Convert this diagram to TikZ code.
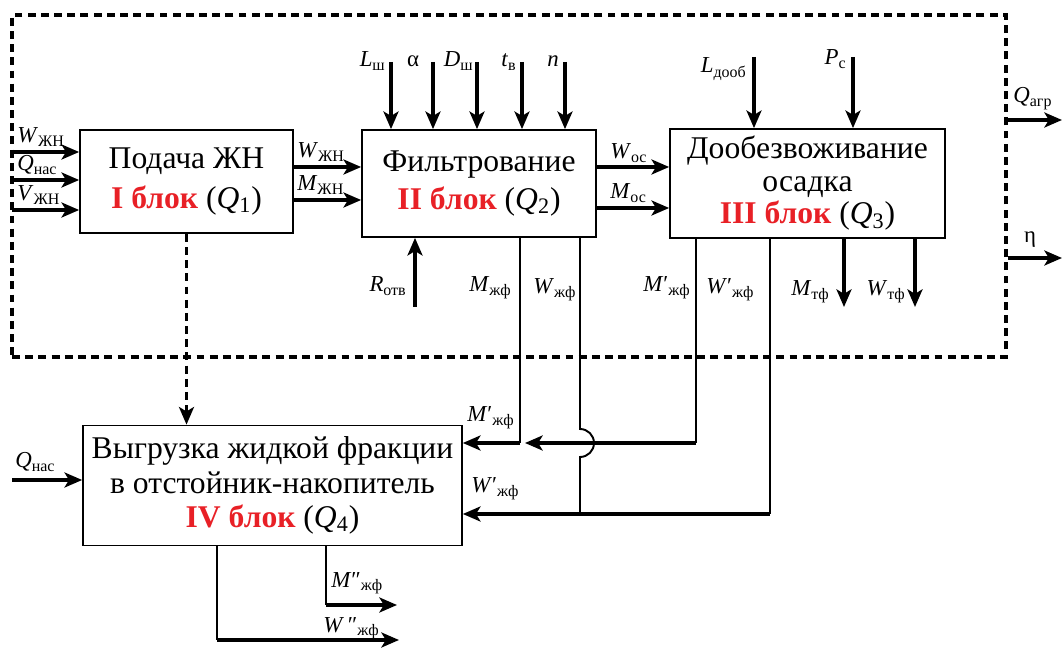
\documentclass[tikz,border=0pt]{standalone}
\usepackage{fontspec}
\setmainfont{Liberation Serif}
\usepackage{xcolor}
\usetikzlibrary{arrows.meta,positioning}
\definecolor{blokred}{RGB}{232,32,38}
\newcommand{\pvar}[2]{\textit{#1}\textsubscript{#2}}
\newcommand{\blok}[2]{\textcolor{blokred}{\bfseries #1 блок} (\textit{Q}\textsubscript{#2})}

\begin{document}
\begin{tikzpicture}[x=0.02cm,y=-0.02cm,
  blok/.style={rectangle,draw,line width=1pt,align=center,inner sep=0pt,font=\fontsize{18}{18.5}\selectfont},
  flow/.style={line width=2.1pt,-{Stealth[length=10pt,width=8.5pt,inset=2.5pt]}},
  dflow/.style={flow,dash pattern=on 4.5pt off 3pt},
  tie/.style={line width=1.1pt},
  lab/.style={font=\fontsize{13}{14}\selectfont,inner sep=0pt}]
\useasboundingbox (0,0) rectangle (1062,648);
% system boundary
\node[draw,line width=2pt,dash pattern=on 4.5pt off 3pt,minimum width=19.88cm,minimum height=6.84cm] (sys) at (509,186) {};
% blocks
\node[blok,minimum width=4.26cm,minimum height=2.06cm] (b1) at (186.5,181.5) {Подача ЖН\\[4pt] \blok{I}{1}};
\node[blok,minimum width=4.68cm,minimum height=2.14cm] (b2) at (479,183.5) {Фильтрование\\[3pt] \blok{II}{2}};
\node[blok,minimum width=5.5cm,minimum height=2.18cm] (b3) at (807.5,183.5) {Дообезвоживание\\ осадка\\ \blok{III}{3}};
\node[blok,minimum width=7.58cm,minimum height=2.4cm] (b4) at (272.5,485.5) {Выгрузка жидкой фракции\\[1pt] в отстойник-накопитель\\[1pt] \blok{IV}{4}};

% inputs of block I
\coordinate (wzn) at (12,152);
\coordinate (qnas) at (12,180);
\coordinate (vzn) at (12,210);
\draw[flow] (wzn) -- (wzn -| b1.west);
\draw[flow] (qnas) -- (qnas -| b1.west);
\draw[flow] (vzn) -- (vzn -| b1.west);
\node[lab,anchor=base west] (lwzn) at (17,143) {\pvar{W}{ЖН}};
\node[lab,anchor=base west] (lqnas) at (17,171) {\pvar{Q}{нас}};
\node[lab,anchor=base west] (lvzn) at (17,201) {\pvar{V}{ЖН}};

% block I -> block II
\coordinate (w12) at (293,167);
\coordinate (m12) at (293,200);
\draw[flow] (w12) -- (w12 -| b2.west);
\draw[flow] (m12) -- (m12 -| b2.west);
\node[lab,anchor=base west] (lw12) at (297,158) {\pvar{W}{ЖН}};
\node[lab,anchor=base west] (lm12) at (297,191) {\pvar{M}{ЖН}};

% block II -> block III
\coordinate (w23) at (596,167);
\coordinate (m23) at (596,208);
\draw[flow] (w23) -- (w23 -| b3.west);
\draw[flow] (m23) -- (m23 -| b3.west);
\node[lab,anchor=base west] (lw23) at (610,159) {\pvar{W}{ос}};
\node[lab,anchor=base west] (lm23) at (610,199) {\pvar{M}{ос}};

% parameters of block II
\coordinate (lsh) at (391,62);
\coordinate (alf) at (433,62);
\coordinate (dsh) at (477,62);
\coordinate (tv) at (522,62);
\coordinate (nn) at (565,62);
\draw[flow] (lsh) -- (lsh |- b2.north);
\draw[flow] (alf) -- (alf |- b2.north);
\draw[flow] (dsh) -- (dsh |- b2.north);
\draw[flow] (tv) -- (tv |- b2.north);
\draw[flow] (nn) -- (nn |- b2.north);
\node[lab,anchor=base east] (llsh) at (386,67) {\pvar{L}{ш}};
\node[lab,anchor=base] (lalf) at (413,67) {α};
\node[lab,anchor=base east] (ldsh) at (474,67) {\pvar{D}{ш}};
\node[lab,anchor=base east] (ltv) at (517,67) {\pvar{t}{в}};
\node[lab,anchor=base] (lnn) at (553,67) {\textit{n}};

% parameters of block III
\coordinate (ldoob) at (754,57);
\coordinate (pc) at (853,57);
\draw[flow] (ldoob) -- (ldoob |- b3.north);
\draw[flow] (pc) -- (pc |- b3.north);
\node[lab,anchor=base east] (lldoob) at (747,73) {\pvar{L}{дооб}};
\node[lab,anchor=base east] (lpc) at (847,65) {\pvar{P}{с}};

% outputs of the system
\coordinate (qagr) at (1062,120);
\coordinate (eta) at (1062,258);
\draw[flow] (qagr -| sys.east) -- (qagr);
\draw[flow] (eta -| sys.east) -- (eta);
\node[lab,anchor=base west] (lqagr) at (1013,103) {\pvar{Q}{агр}};
\node[lab,anchor=base] (leta) at (1030,243) {η};

% block II bottom
\coordinate (rotv) at (415,307);
\draw[flow] (rotv) -- (rotv |- b2.south);
\node[lab,anchor=base east] (lrotv) at (407,292) {\pvar{R}{отв}};
\node[lab,anchor=base east] (lmzf) at (512,292) {\pvar{M}{жф}};
\node[lab,anchor=base west] (lwzf) at (533,294) {\pvar{W}{жф}};

% block III bottom
\coordinate (mtf) at (844,307);
\coordinate (wtf) at (915,307);
\draw[flow] (mtf |- b3.south) -- (mtf);
\draw[flow] (wtf |- b3.south) -- (wtf);
\node[lab,anchor=base east] (lmzf3) at (691,292) {\textit{M}′\textsubscript{жф}};
\node[lab,anchor=base west] (lwzf3) at (706,294) {\textit{W}′\textsubscript{жф}};
\node[lab,anchor=base east] (lmtf) at (830,296) {\pvar{M}{тф}};
\node[lab,anchor=base east] (lwtf) at (906,296) {\pvar{W}{тф}};

% liquid fraction to block IV
\coordinate (mjoin) at (520,443);
\coordinate (mzf3) at (696,443);
\coordinate (hop) at (580,443);
\coordinate (wzf) at (580,514);
\coordinate (wzf3) at (770,514);
\draw[tie] (b2.south -| mjoin) -- (mjoin);
\draw[tie] (b3.south -| mzf3) -- (mzf3);
\draw[flow] (mzf3) -- ([xshift=0.1cm]mjoin);
\draw[flow] (mjoin) -- (mjoin -| b4.east);
\draw[tie] (b2.south -| hop) -- ([yshift=0.28cm]hop) arc[start angle=90,end angle=-90,radius=0.28cm] -- (wzf);
\draw[tie] (b3.south -| wzf3) -- (wzf3);
\draw[flow] (wzf3) -- (wzf3 -| b4.east);
\node[lab,anchor=base west] (lmzf4) at (467,422) {\textit{M}′\textsubscript{жф}};
\node[lab,anchor=base west] (lwzf4) at (471,493) {\textit{W}′\textsubscript{жф}};

% block I -> block IV
\draw[dflow] (b1.south) -- (b1.south |- b4.north);
\coordinate (qnas4) at (12,480);
\draw[flow] (qnas4) -- (qnas4 -| b4.west);
\node[lab,anchor=base west] (lqnas4) at (15,468) {\pvar{Q}{нас}};

% outputs of block IV
\coordinate (mzf5) at (326,605);
\coordinate (mzf5e) at (397,605);
\coordinate (wzf5) at (217,640);
\coordinate (wzf5e) at (399,640);
\draw[tie] (b4.south -| mzf5) -- (mzf5);
\draw[flow] (mzf5) -- (mzf5e);
\draw[tie] (b4.south -| wzf5) -- (wzf5);
\draw[flow] (wzf5) -- (wzf5e);
\node[lab,anchor=base west] (lmzf5) at (331,587) {\textit{M}″\textsubscript{жф}};
\node[lab,anchor=base west] (lwzf5) at (323,632) {\textit{W}\,″\textsubscript{жф}};
\end{tikzpicture}
\end{document}
